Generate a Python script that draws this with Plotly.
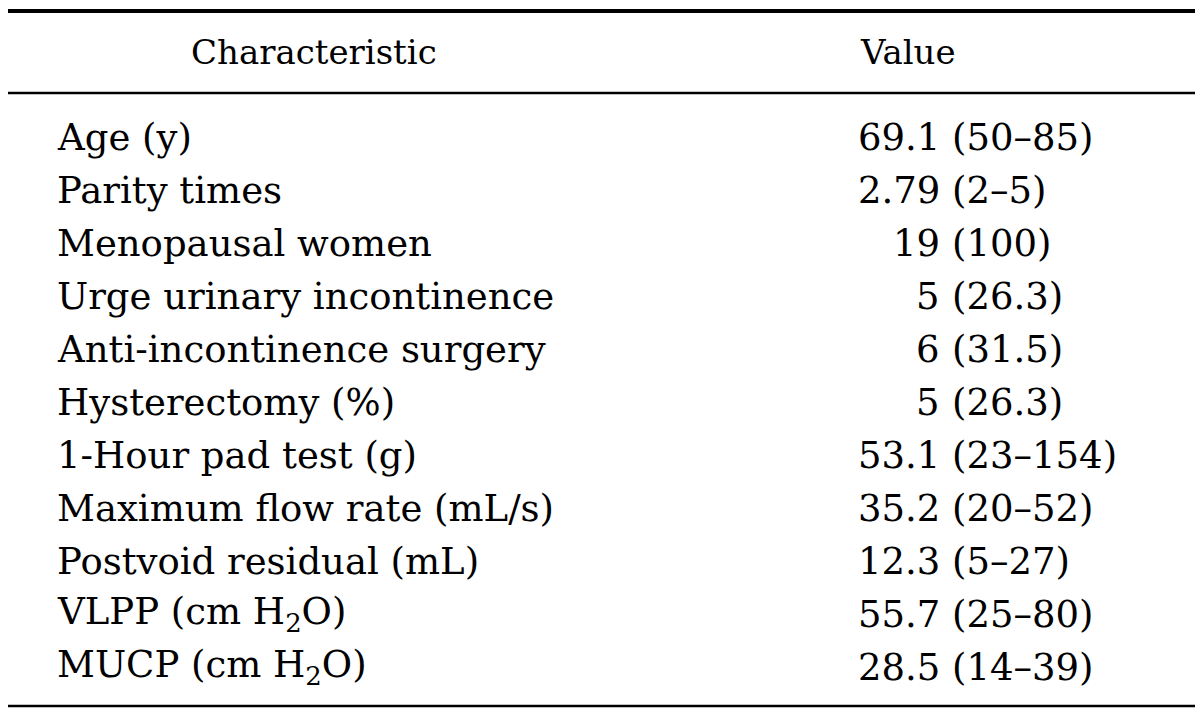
import plotly.graph_objects as go

headers = ["Characteristic", "Value"]
characteristics = [
    "Age (y)",
    "Parity times",
    "Menopausal women",
    "Urge urinary incontinence",
    "Anti-incontinence surgery",
    "Hysterectomy (%)",
    "1-Hour pad test (g)",
    "Maximum flow rate (mL/s)",
    "Postvoid residual (mL)",
    "VLPP (cm H<sub>2</sub>O)",
    "MUCP (cm H<sub>2</sub>O)",
]
values = [
    "69.1 (50–85)",
    "2.79 (2–5)",
    "19 (100)",
    "5 (26.3)",
    "6 (31.5)",
    "5 (26.3)",
    "53.1 (23–154)",
    "35.2 (20–52)",
    "12.3 (5–27)",
    "55.7 (25–80)",
    "28.5 (14–39)",
]

W, H = 1200, 716
FONT = "DejaVu Serif"
FS = 37
FS_HEAD = 34
first_row = 137
row_h = 53
label_x = 55
paren_x = 950
num_right = 942

fig = go.Figure()
fig.add_trace(go.Scatter(x=[0, W], y=[0, H], mode="markers",
                         marker=dict(opacity=0), hoverinfo="skip", showlegend=False))

ann = []
ann.append(dict(x=314, y=52, text=headers[0], xanchor="center", yanchor="middle",
                font=dict(family=FONT, size=FS_HEAD, color="black")))
ann.append(dict(x=908, y=52, text=headers[1], xanchor="center", yanchor="middle",
                font=dict(family=FONT, size=FS_HEAD, color="black")))
for i, (lab, val) in enumerate(zip(characteristics, values)):
    y = first_row + i * row_h
    f = dict(family=FONT, size=FS, color="black")
    ann.append(dict(x=label_x, y=y, text=lab, xanchor="left", yanchor="middle", font=f))
    num, rest = val.split(" ", 1)
    ann.append(dict(x=num_right, y=y, text=num, xanchor="right", yanchor="middle", font=f))
    ann.append(dict(x=paren_x, y=y, text=rest, xanchor="left", yanchor="middle", font=f))

for a in ann:
    a.update(xref="x", yref="y", showarrow=False)

shapes = [
    dict(type="line", x0=8, x1=1195, y0=11, y1=11, line=dict(color="black", width=4)),
    dict(type="line", x0=8, x1=1195, y0=93, y1=93, line=dict(color="black", width=2.5)),
    dict(type="line", x0=8, x1=1195, y0=706, y1=706, line=dict(color="black", width=2.5)),
]
for s in shapes:
    s.update(xref="x", yref="y")

fig.update_layout(
    width=W, height=H,
    margin=dict(l=0, r=0, t=0, b=0),
    paper_bgcolor="white", plot_bgcolor="white",
    xaxis=dict(range=[0, W], visible=False, fixedrange=True),
    yaxis=dict(range=[H, 0], visible=False, fixedrange=True),
    annotations=ann, shapes=shapes,
)
fig.write_html("out.html", config={"displayModeBar": False},
               post_script="document.body.style.margin='0';document.body.style.overflow='hidden';")
